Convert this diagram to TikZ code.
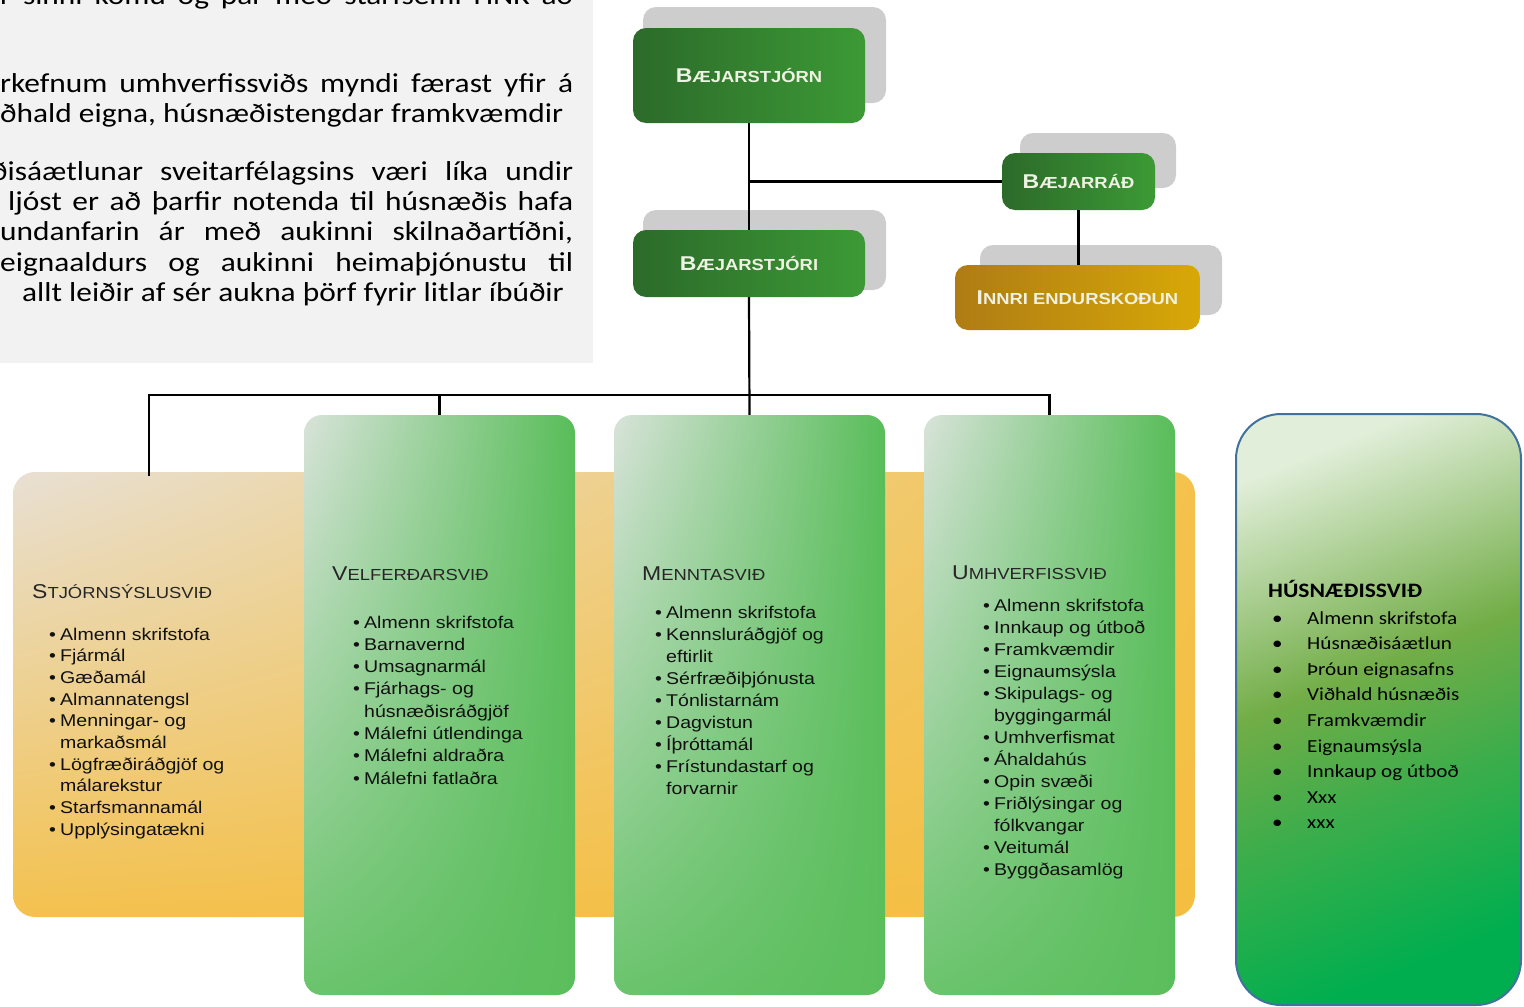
\documentclass[tikz,border=0pt]{standalone}
\usepackage{fontspec}
\setmainfont{Liberation Sans}[FakeStretch=1.15]
\newfontfamily\calib{Carlito}[FakeStretch=1.15]
\usetikzlibrary{shadings}

\definecolor{boxgrey}{HTML}{F2F2F2}
\definecolor{shadowgrey}{HTML}{CDCDCD}
\definecolor{topgreenA}{HTML}{2C6A2A}
\definecolor{topgreenB}{HTML}{3C9A35}
\definecolor{goldA}{HTML}{AE7C14}
\definecolor{goldB}{HTML}{D8A808}
\definecolor{boxtext}{HTML}{EEF2E2}
\definecolor{orangeUL}{HTML}{E8E0D4}
\definecolor{orangeUR}{HTML}{F4C24C}
\definecolor{orangeLL}{HTML}{F3C14E}
\definecolor{orangeLR}{HTML}{F4BE40}
\definecolor{colUL}{HTML}{D8E3D9}
\definecolor{colUR}{HTML}{58BD59}
\definecolor{colLL}{HTML}{6AC46C}
\definecolor{colLR}{HTML}{5BBE5C}
\definecolor{husnA}{HTML}{E1EED9}
\definecolor{husnB}{HTML}{72AD47}
\definecolor{husnC}{HTML}{00AE4F}
\definecolor{husnline}{HTML}{41719C}
\definecolor{headgrey}{HTML}{262626}
\definecolor{itemtext}{HTML}{111111}

% pale top, olive middle, bright green bottom
\pgfdeclareverticalshading{husnshade}{100bp}{color(0bp)=(husnC); color(25bp)=(husnC);
  color(42bp)=(husnB!55!husnC); color(54bp)=(husnB); color(66bp)=(husnB!45!husnA);
  color(76bp)=(husnA); color(100bp)=(husnA)}

% small caps faked with two sizes
\newcommand{\boxcap}[2]{{\fontsize{20}{20}\selectfont#1}{\fontsize{16}{16}\selectfont#2}}
\newcommand{\innricap}[2]{{\fontsize{20}{20}\selectfont#1}{\fontsize{16}{16}\selectfont#2}}
\newcommand{\headcap}[2]{{\fontsize{20}{20}\selectfont#1}{\fontsize{16}{16}\selectfont#2}}
\newcommand{\colbul}{\makebox[11pt][l]{\textbullet}}
\newcommand{\colind}{\hspace*{11pt}}
\newcommand{\husnbul}{\makebox[35pt][l]{\textbullet}}

\begin{document}
\begin{tikzpicture}[x=1pt, y=-1pt,
  conn/.style={line width=2.2pt, black},
  shadowbox/.style={fill=shadowgrey, rounded corners=13},
  topbox/.style={rounded corners=13, left color=topgreenA, right color=topgreenB,
    text=boxtext, font=\bfseries, inner sep=0},
  goldbox/.style={topbox, left color=goldA, right color=goldB},
  orangebox/.style={rounded corners=22, upper left=orangeUL, upper right=orangeUR,
    lower left=orangeLL, lower right=orangeLR, inner sep=0},
  colbox/.style={rounded corners=18, upper left=colUL, upper right=colUR,
    lower left=colLL, lower right=colLR, inner sep=0},
  husnbox/.style={rounded corners=45, draw=husnline, line width=2pt,
    shading=husnshade, shading angle=22, inner sep=0},
  colhead/.style={anchor=base west, inner sep=0, text=headgrey},
  listitem/.style={anchor=base west, inner sep=0, text=itemtext, font=\fontsize{17}{17}\selectfont},
  paraline/.style={anchor=base west, inner sep=0, font=\calib\fontsize{27.3}{30}\selectfont},
  husnitem/.style={anchor=base west, inner sep=0, font=\calib\fontsize{18.4}{20}\selectfont}
]
  \useasboundingbox (0,0) rectangle (1524,1007);

  %================= Text box (top left, cut off) =================
  \begin{scope}
    \clip (0,0) rectangle (593,363);
    \fill[boxgrey] (0,0) rectangle (593,363);
    \node[paraline] (p0) at (0,4)   {\makebox[573pt][s]{r sinni komu og þar með starfsemi HNK að}};
    \node[paraline] (p1) at (0,92)  {\makebox[573pt][s]{rkefnum umhverfissviðs myndi færast yfir á}};
    \node[paraline] (p2) at (0,122) {ðhald eigna, húsnæðistengdar framkvæmdir};
    \node[paraline] (p3) at (-9,180) {\makebox[582pt][s]{ðisáætlunar sveitarfélagsins væri líka undir}};
    \node[paraline] (p4) at (8,210) {\makebox[565pt][s]{ljóst er að þarfir notenda til húsnæðis hafa}};
    \node[paraline] (p5) at (0,240) {\makebox[573pt][s]{undanfarin ár með aukinni skilnaðartíðni,}};
    \node[paraline] (p6) at (0,271) {\makebox[573pt][s]{eignaaldurs og aukinni heimaþjónustu til}};
    \node[paraline] (p7) at (22,301) {allt leiðir af sér aukna þörf fyrir litlar íbúðir};
  \end{scope}

  %================= Top of the chart =================
  \fill[shadowbox] (643,7) rectangle (886,103);
  \fill[shadowbox] (1020,133) rectangle (1176,188);
  \fill[shadowbox] (643,210) rectangle (886,290);
  \fill[shadowbox] (980,245) rectangle (1222,315);

  \node[topbox, minimum width=232, minimum height=95] (jorn) at (749,75.5) {\boxcap{B}{ÆJARSTJÓRN}};
  \node[topbox, minimum width=153, minimum height=57] (rad) at (1078.5,181.5) {\boxcap{B}{ÆJARRÁÐ}};
  \node[topbox, minimum width=232, minimum height=67] (stjori) at (749,263.5) {\boxcap{B}{ÆJARSTJÓRI}};
  \node[goldbox, minimum width=245, minimum height=65] (innri) at (1077.5,297.5) {\innricap{I}{NNRI ENDURSKOÐUN}};

  %================= Divisions =================
  \node[orangebox, minimum width=1182, minimum height=445] (stjorn) at (604,694.5) {};
  \node[colbox, minimum width=271, minimum height=580] (velferd) at (439.5,705) {};
  \node[colbox, minimum width=271, minimum height=580] (mennta) at (749.5,705) {};
  \node[colbox, minimum width=251, minimum height=580] (umhv) at (1049.5,705) {};
  \node[husnbox, minimum width=285, minimum height=591] (husn) at (1378.5,709.5) {};

  %================= Connectors =================
  \coordinate (busmid) at (749,395);
  \coordinate (stjdrop) at (149,476);
  \draw[conn] (jorn.south) -- (stjori.north);
  \draw[conn] (rad.west) -- (rad.west -| jorn.south);
  \draw[conn] (rad.south) -- (rad.south |- innri.north);
  \draw[conn] (stjori.south) -- (mennta.north);
  \draw[conn] (stjdrop) |- (busmid) -| (umhv.north);
  \draw[conn] (velferd.north) -- (velferd.north |- busmid);

  %================= Stjórnsýslusvið =================
  \node[colhead] (stj-head) at (32,598) {\headcap{S}{TJÓRNSÝSLUSVIÐ}};
  \foreach \t [count=\i from 0] in {\colbul Almenn skrifstofa, \colbul Fjármál, \colbul Gæðamál,
      \colbul Almannatengsl, \colbul Menningar- og, \colind markaðsmál,
      \colbul Lögfræðiráðgjöf og, \colind málarekstur, \colbul Starfsmannamál,
      \colbul Upplýsingatækni}
    \node[listitem] (stj-\i) at (49,640+\i*21.7) {\t};

  %================= Velferðarsvið =================
  \node[colhead] (vel-head) at (332,580) {\headcap{V}{ELFERÐARSVIÐ}};
  \foreach \t [count=\i from 0] in {\colbul Almenn skrifstofa, \colbul Barnavernd,
      \colbul Umsagnarmál, \colbul Fjárhags- og, \colind húsnæðisráðgjöf,
      \colbul Málefni útlendinga, \colbul Málefni aldraðra, \colbul Málefni fatlaðra}
    \node[listitem] (vel-\i) at (353,628+\i*22.3) {\t};

  %================= Menntasvið =================
  \node[colhead] (men-head) at (642,580) {\headcap{M}{ENNTASVIÐ}};
  \foreach \t [count=\i from 0] in {\colbul Almenn skrifstofa, \colbul Kennsluráðgjöf og,
      \colind eftirlit, \colbul Sérfræðiþjónusta, \colbul Tónlistarnám, \colbul Dagvistun,
      \colbul Íþróttamál, \colbul Frístundastarf og, \colind forvarnir}
    \node[listitem] (men-\i) at (655,618+\i*22) {\t};

  %================= Umhverfissvið =================
  \node[colhead] (umh-head) at (952,579) {\headcap{U}{MHVERFISSVIÐ}};
  \foreach \t [count=\i from 0] in {\colbul Almenn skrifstofa, \colbul Innkaup og útboð,
      \colbul Framkvæmdir, \colbul Eignaumsýsla, \colbul Skipulags- og, \colind byggingarmál,
      \colbul Umhverfismat, \colbul Áhaldahús, \colbul Opin svæði, \colbul Friðlýsingar og,
      \colind fólkvangar, \colbul Veitumál, \colbul Byggðasamlög}
    \node[listitem] (umh-\i) at (983,611+\i*22) {\t};

  %================= Húsnæðissvið =================
  \node[husnitem, font=\calib\bfseries\fontsize{20.5}{20}\selectfont] (hus-head) at (1268,597) {HÚSNÆÐISSVIÐ};
  \foreach \t [count=\i from 0] in {Almenn skrifstofa, Húsnæðisáætlun, Þróun eignasafns,
      Viðhald húsnæðis, Framkvæmdir, Eignaumsýsla, Innkaup og útboð, Xxx, xxx}
    \node[husnitem] (hus-\i) at (1272,624+\i*25.6) {\husnbul\t};
\end{tikzpicture}
\end{document}
